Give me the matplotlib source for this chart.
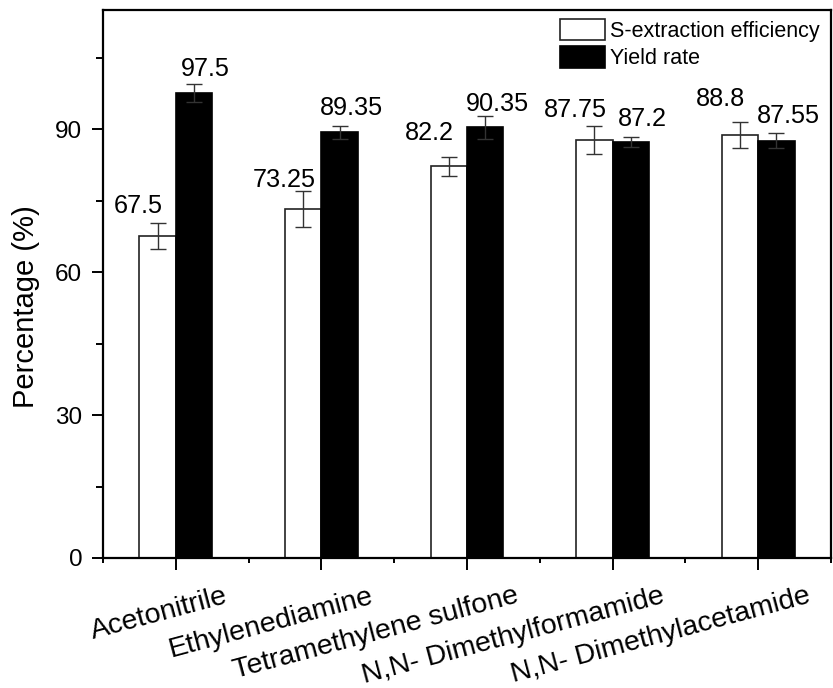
import matplotlib
matplotlib.use("Agg")
import matplotlib.pyplot as plt
import matplotlib.transforms as mtransforms
import numpy as np

plt.rcParams['font.family'] = ['Liberation Sans', 'DejaVu Sans']

solvents = ["Acetonitrile", "Ethylenediamine", "Tetramethylene sulfone",
            "N,N- Dimethylformamide", "N,N- Dimethylacetamide"]
s_extraction = [67.5, 73.25, 82.2, 87.75, 88.8]
s_extraction_err = [2.7, 3.7, 2.0, 2.9, 2.7]
yield_rate = [97.5, 89.35, 90.35, 87.2, 87.55]
yield_rate_err = [1.9, 1.35, 2.5, 1.05, 1.6]

# gap between error-bar top and value label baseline (percentage units)
s_label_gap = [2.1, 1.0, 3.5, 1.8, 3.4]
y_label_gap = [1.7, 2.25, 1.0, 2.5, 2.15]

fig = plt.figure(figsize=(8.33, 6.88), dpi=100)
ax = fig.add_axes([103 / 833, 1 - 558 / 688, 728 / 833, 548 / 688])

x = np.arange(len(solvents))
w = 0.25
err_kw = dict(ecolor='#333333', elinewidth=1.0, capsize=5.5, capthick=1.0)

ax.bar(x - w / 2, s_extraction, w, yerr=s_extraction_err, color='white',
       edgecolor='#222222', linewidth=1.2, label='S-extraction efficiency',
       error_kw=err_kw, zorder=2)
ax.bar(x + w / 2, yield_rate, w, yerr=yield_rate_err, color='black',
       edgecolor='black', linewidth=1.2, label='Yield rate',
       error_kw=err_kw, zorder=2)

for i in range(len(solvents)):
    ax.annotate(f"{s_extraction[i]:g}",
                (x[i] - w / 2, s_extraction[i] + s_extraction_err[i] + s_label_gap[i]),
                xytext=(-14, 0), textcoords='offset points',
                ha='center', va='baseline', fontsize=18.2)
    ax.annotate(f"{yield_rate[i]:g}",
                (x[i] + w / 2, yield_rate[i] + yield_rate_err[i] + y_label_gap[i]),
                xytext=(8.5, 0), textcoords='offset points',
                ha='center', va='baseline', fontsize=18.2)

ax.set_xlim(-0.5, len(solvents) - 0.5)
ax.set_ylim(0, 115)
ax.set_yticks([0, 30, 60, 90])
ax.set_yticks([15, 45, 75, 105], minor=True)
ax.set_xticks(x)
ax.set_xticks(np.arange(-0.5, len(solvents), 1.0), minor=True)
ax.set_xticklabels([])

# category names: slanted, right end sitting just right of each tick
label_tf = ax.get_xaxis_transform() + mtransforms.ScaledTranslation(
    0.48, -0.25, fig.dpi_scale_trans)
for xi, name in zip(x, solvents):
    ax.text(xi, 0, name, transform=label_tf, rotation=15,
            rotation_mode='anchor', ha='right', va='top', fontsize=20.5)

ax.tick_params(axis='both', which='both', direction='out', width=1.4, color='black')
ax.tick_params(axis='x', which='major', length=8.5)
ax.tick_params(axis='x', which='minor', length=3.6)
ax.tick_params(axis='y', which='major', length=8, labelsize=17.5, pad=7)
ax.tick_params(axis='y', which='minor', length=5)

for sp in ax.spines.values():
    sp.set_linewidth(1.6)

ax.set_ylabel("Percentage (%)", fontsize=21)
ax.yaxis.set_label_coords(-(103 - 40) / 728, (558 - 307) / 548)

ax.legend(loc='upper left', bbox_to_anchor=((560 - 103) / 728, (558 - 19) / 548),
          frameon=False, fontsize=15.5, handlelength=2.1, handleheight=1.15,
          handletextpad=0.2, labelspacing=0.2, borderpad=0, borderaxespad=0)

fig.savefig("out.png", dpi=100)
